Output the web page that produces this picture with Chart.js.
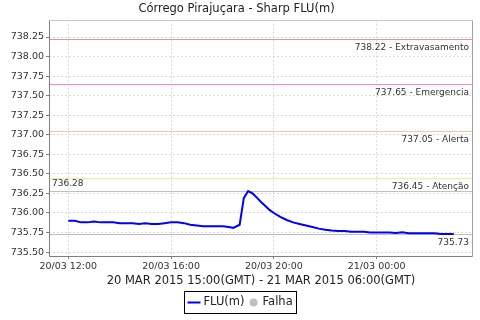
<!DOCTYPE html>
<html>
<head>
<meta charset="utf-8">
<script src="https://cdn.jsdelivr.net/npm/chart.js@4.4.1/dist/chart.umd.min.js"></script>
<style>
    html, body { margin: 0; padding: 0; background: #fff; }
    #wrap { width: 480px; height: 320px; }
</style>
</head>
<body>
<div id="wrap"><canvas id="fluChart" width="480" height="320"></canvas></div>
<script>
// Hours counted from 20/03 00:00 (local, GMT-3)
const hours = [
    12.00, 12.25, 12.50, 12.75, 13.00, 13.25, 13.50, 13.75, 14.00, 14.25,
    14.50, 14.75, 15.00, 15.25, 15.50, 15.75, 16.00, 16.25, 16.50, 16.75,
    17.00, 17.25, 17.50, 17.75, 18.00, 18.25, 18.42, 18.67, 18.83,
    19.00, 19.17, 19.33, 19.50, 19.67, 19.83,
    20.00, 20.25, 20.50, 20.75, 21.00, 21.25, 21.50, 21.75, 22.00, 22.25,
    22.50, 22.75, 23.00, 23.25, 23.50, 23.75, 24.00, 24.25, 24.50, 24.75,
    25.00, 25.25, 25.50, 25.75, 26.00, 26.25, 26.50, 26.75, 27.00
];
const levels = [
    735.90, 735.90, 735.88, 735.88, 735.89, 735.88, 735.88, 735.88, 735.87, 735.87,
    735.87, 735.86, 735.87, 735.86, 735.86, 735.87, 735.88, 735.88, 735.87, 735.85,
    735.84, 735.83, 735.83, 735.83, 735.83, 735.82, 735.81, 735.85, 736.19,
    736.28, 736.25, 736.20, 736.14, 736.09, 736.04,
    736.00, 735.95, 735.91, 735.88, 735.86, 735.84, 735.82, 735.80, 735.785, 735.775,
    735.77, 735.77, 735.76, 735.76, 735.76, 735.75, 735.75, 735.75, 735.75, 735.745,
    735.755, 735.74, 735.74, 735.74, 735.74, 735.74, 735.73, 735.73, 735.73
];

const xTickValues = [12, 16, 20, 24];
const xTickLabels = ['20/03 12:00', '20/03 16:00', '20/03 20:00', '21/03 00:00'];

// Alert levels
const markerValues = [738.22, 737.65, 737.05, 736.45];
const markerNames = ['Extravasamento', 'Emergencia', 'Alerta', 'Atenção'];
const markerColors = ['#f09090', '#ff80ff', '#f5c8a0', '#f8f080'];

const TITLE = 'Córrego Pirajuçara - Sharp FLU(m)';
const SUBTITLE = '20 MAR 2015 15:00(GMT) - 21 MAR 2015 06:00(GMT)';
const FONT = 'DejaVu Sans';

Chart.defaults.font.family = FONT;

// Draws marker lines, plot frame and the boxed legend
const overlayPlugin = {
    id: 'overlay',
    beforeDatasetsDraw(chart) {
        const ctx = chart.ctx;
        const area = chart.chartArea;
        const y = chart.scales.y;
        ctx.save();
        ctx.lineWidth = 1;
        ctx.font = '9px ' + FONT;
        ctx.fillStyle = '#333';
        ctx.textBaseline = 'middle';

        markerValues.forEach((v, i) => {
            const py = Math.round(y.getPixelForValue(v)) + 0.5;
            ctx.strokeStyle = markerColors[i];
            ctx.beginPath();
            ctx.moveTo(area.left, py);
            ctx.lineTo(area.right, py);
            ctx.stroke();
            ctx.textAlign = 'right';
            ctx.fillText(v.toFixed(2) + ' - ' + markerNames[i], area.right - 4, py + 8);
        });

        // max / min of the series
        const maxVal = Math.max(...levels);
        const minVal = Math.min(...levels);
        ctx.strokeStyle = '#c0c0c0';
        [maxVal, minVal].forEach(v => {
            const py = Math.round(y.getPixelForValue(v)) + 0.5;
            ctx.beginPath();
            ctx.moveTo(area.left, py);
            ctx.lineTo(area.right, py);
            ctx.stroke();
        });
        ctx.textAlign = 'left';
        ctx.fillText(maxVal.toFixed(2), area.left + 3, Math.round(y.getPixelForValue(maxVal)) - 7);
        ctx.textAlign = 'right';
        ctx.fillText(minVal.toFixed(2), area.right - 4, Math.round(y.getPixelForValue(minVal)) + 9);
        ctx.restore();
    },
    afterDraw(chart) {
        const ctx = chart.ctx;
        const area = chart.chartArea;
        ctx.save();
        ctx.lineWidth = 1;
        // frame
        const l = Math.round(area.left) + 0.5, r = Math.round(area.right) - 0.5;
        const t = Math.round(area.top) + 0.5, b = Math.round(area.bottom) + 0.5;
        ctx.strokeStyle = '#c8c8c8';
        ctx.beginPath(); ctx.moveTo(l, t); ctx.lineTo(r, t); ctx.stroke();
        ctx.strokeStyle = '#a0a0a0';
        ctx.beginPath(); ctx.moveTo(r, t); ctx.lineTo(r, b); ctx.stroke();
        ctx.strokeStyle = '#808080';
        ctx.beginPath(); ctx.moveTo(l, t); ctx.lineTo(l, b); ctx.lineTo(r, b); ctx.stroke();

        // legend
        const ds = chart.data.datasets;
        ctx.font = '11.5px ' + FONT;
        ctx.textBaseline = 'middle';
        const w0 = ctx.measureText(ds[0].label).width;
        const w1 = ctx.measureText(ds[1].label).width;
        const boxW = Math.round(3 + 13 + 3 + w0 + 5 + 8 + 5 + w1 + 4);
        const boxX = Math.round(240 - boxW / 2) + 0.5;
        const boxY = 291.5, boxH = 22;
        const cy = boxY + boxH / 2;
        ctx.strokeStyle = '#000';
        ctx.strokeRect(boxX, boxY, boxW, boxH);
        let x = boxX + 3;
        ctx.strokeStyle = ds[0].borderColor;
        ctx.lineWidth = 2;
        ctx.beginPath(); ctx.moveTo(x, cy); ctx.lineTo(x + 13, cy); ctx.stroke();
        x += 16;
        ctx.fillStyle = '#222';
        ctx.textAlign = 'left';
        ctx.fillText(ds[0].label, x, cy);
        x += w0 + 5;
        ctx.fillStyle = ds[1].pointBackgroundColor;
        ctx.beginPath(); ctx.arc(x + 4, cy, 4, 0, Math.PI * 2); ctx.fill();
        x += 13;
        ctx.fillStyle = '#222';
        ctx.fillText(ds[1].label, x, cy);
        ctx.restore();
    }
};

const ctx = document.getElementById('fluChart').getContext('2d');
new Chart(ctx, {
    type: 'line',
    data: {
        datasets: [
            {
                label: 'FLU(m)',
                data: hours.map((h, i) => ({ x: h, y: levels[i] })),
                borderColor: '#0000ff',
                borderWidth: 2,
                pointRadius: 0,
                tension: 0,
                fill: false
            },
            {
                label: 'Falha',
                data: [],
                pointBackgroundColor: '#c0c0c0',
                borderColor: '#c0c0c0'
            }
        ]
    },
    options: {
        responsive: false,
        animation: false,
        devicePixelRatio: 1,
        layout: { padding: { left: 0, right: 7, top: 0, bottom: 30 } },
        plugins: {
            legend: { display: false },
            tooltip: { enabled: false },
            title: {
                display: true,
                text: TITLE,
                color: '#222',
                font: { size: 11.5, weight: 'normal' },
                padding: { top: 2, bottom: 4 }
            }
        },
        scales: {
            x: {
                type: 'linear',
                min: 11.25,
                max: 27.75,
                afterBuildTicks: scale => {
                    scale.ticks = xTickValues.map(v => ({ value: v }));
                },
                afterFit: scale => { scale.height = 34; },
                ticks: {
                    autoSkip: false,
                    maxRotation: 0,
                    padding: 2,
                    color: '#333',
                    font: { size: 9.5 },
                    callback: value => xTickLabels[xTickValues.indexOf(value)]
                },
                grid: { color: '#dadada', tickColor: '#808080', tickLength: 3 },
                border: { display: false, dash: [2, 2] },
                title: {
                    display: true,
                    text: SUBTITLE,
                    color: '#222',
                    font: { size: 11.5 },
                    padding: { top: 0, bottom: 2 }
                }
            },
            y: {
                min: 735.45,
                max: 738.47,
                afterFit: scale => { scale.width = 49; },
                ticks: {
                    stepSize: 0.25,
                    includeBounds: false,
                    padding: 2,
                    color: '#333',
                    font: { size: 9.5 },
                    callback: value => value.toFixed(2)
                },
                grid: { color: '#dadada', tickColor: '#808080', tickLength: 3 },
                border: { display: false, dash: [2, 2] }
            }
        }
    },
    plugins: [overlayPlugin]
});
</script>
</body>
</html>
